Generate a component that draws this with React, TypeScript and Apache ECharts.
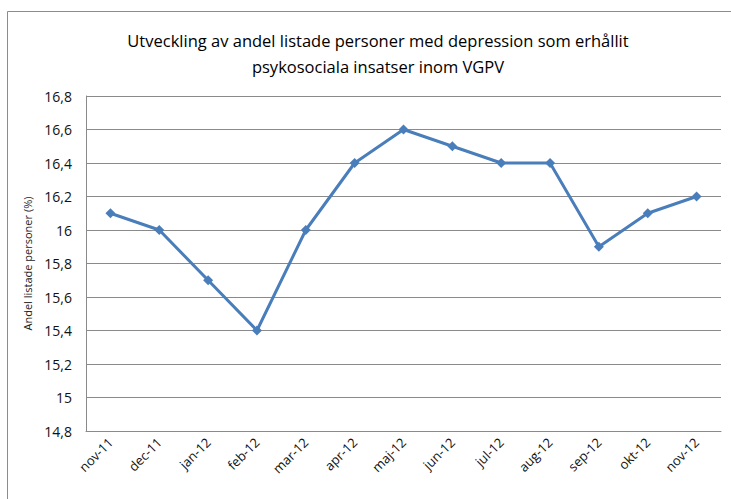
import React, { useEffect, useRef } from "react";
import * as echarts from "echarts";

const months = [
  "nov-11", "dec-11", "jan-12", "feb-12", "mar-12", "apr-12", "maj-12",
  "jun-12", "jul-12", "aug-12", "sep-12", "okt-12", "nov-12",
];
const share = [16.1, 16.0, 15.7, 15.4, 16.0, 16.4, 16.6, 16.5, 16.4, 16.4, 15.9, 16.1, 16.2];

const titleLines = [
  "Utveckling av andel listade personer med depression som erhållit",
  "psykosociala insatser inom VGPV",
];
const yAxisName = "Andel listade personer (%)";

const FONT = "'Open Sans', 'Noto Sans', sans-serif";

export default function App() {
  const ref = useRef<HTMLDivElement>(null);

  useEffect(() => {
    if (!ref.current) return;
    const chart = echarts.init(ref.current, null, { renderer: "svg" });
    chart.setOption({
      animation: false,
      backgroundColor: "#ffffff",
      graphic: [
        {
          type: "rect",
          shape: { x: 7.5, y: 11.5, width: 760, height: 520 },
          style: { fill: "none", stroke: "#8c8c8c", lineWidth: 1 },
          silent: true,
          z: 100,
        },
        ...titleLines.map((line, i) => ({
          type: "text",
          x: 378,
          y: 40 + i * 26,
          silent: true,
          style: {
            text: line,
            fontFamily: FONT,
            fontSize: 16.5,
            fill: "#000000",
            textAlign: "center",
            textVerticalAlign: "middle",
          },
        })),
      ],
      grid: { left: 86, right: 10, top: 96, bottom: 68, containLabel: false },
      xAxis: {
        type: "category",
        data: months,
        boundaryGap: true,
        axisLine: { show: true, lineStyle: { color: "#8a8a8a", width: 1 } },
        axisTick: { show: false },
        axisLabel: {
          rotate: 45,
          interval: 0,
          margin: 9,
          fontFamily: FONT,
          fontSize: 13,
          color: "#111111",
        },
      },
      yAxis: {
        type: "value",
        min: 14.8,
        max: 16.8,
        interval: 0.2,
        name: yAxisName,
        nameLocation: "middle",
        nameGap: 47,
        nameTextStyle: { fontFamily: FONT, fontSize: 11, color: "#222222" },
        axisLine: { show: true, lineStyle: { color: "#8a8a8a", width: 1 } },
        axisTick: { show: false },
        splitLine: { show: true, lineStyle: { color: "#8a8a8a", width: 1 } },
        axisLabel: {
          margin: 14,
          fontFamily: FONT,
          fontSize: 14,
          color: "#111111",
          formatter: (v: number) => String(Math.round(v * 10) / 10).replace(".", ","),
        },
      },
      series: [
        {
          type: "line",
          data: share,
          symbol: "diamond",
          symbolSize: 10,
          lineStyle: { color: "#4a7ebb", width: 3 },
          itemStyle: { color: "#4a7ebb" },
        },
      ],
    });
    return () => chart.dispose();
  }, []);

  return (
    <div
      ref={ref}
      style={{ position: "absolute", left: 0, top: 0, width: 731, height: 499 }}
    />
  );
}
